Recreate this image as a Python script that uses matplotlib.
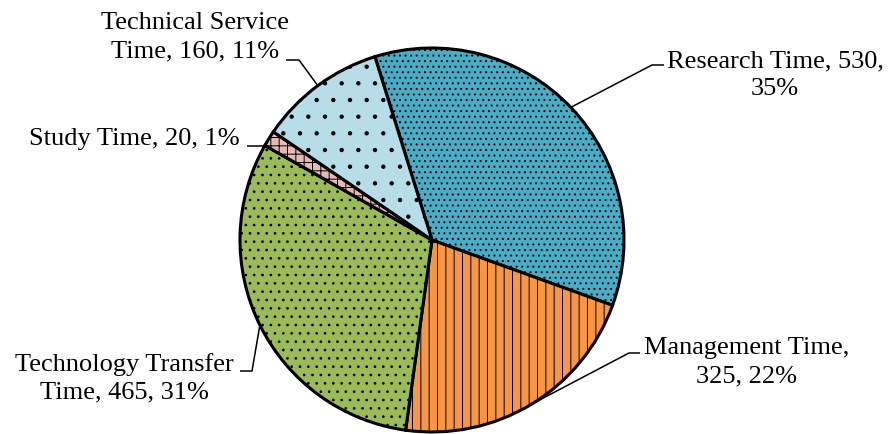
import numpy as np
import matplotlib
matplotlib.use('Agg')
import matplotlib.pyplot as plt

# slice data (clockwise from the top)
labels = ['Research Time', 'Management Time', 'Technology Transfer\nTime',
          'Study Time', 'Technical Service\nTime']
values = [530, 325, 465, 20, 160]
percents = [35, 22, 31, 1, 11]

colors = ['#4BACC6', '#F79646', '#9BBB59', '#E6B9B8', '#B7DEE8']
hatches = ['...', '||', '..', '++', '.']

plt.rcParams['font.family'] = ['Liberation Serif', 'DejaVu Serif']
plt.rcParams['hatch.color'] = '#333333'
plt.rcParams['hatch.linewidth'] = 0.7

W, H = 894, 434
CX, CY, R = 432, 240, 192


def px(x, y):
    """Pixel position (from top-left) to data units where the pie radius is 1."""
    return (x - CX) / R, (CY - y) / R


fig = plt.figure(figsize=(W / 100, H / 100), dpi=100)
ax = fig.add_axes([0, 0, 1, 1])

start = 107.3
wedges, _ = ax.pie(values, colors=colors, startangle=start, counterclock=False,
                   radius=1, center=(0, 0),
                   wedgeprops=dict(edgecolor='black', linewidth=2.2))
for w, h in zip(wedges, hatches):
    w.set_hatch(h)

ax.set_xlim(px(0, 0)[0], px(W, 0)[0])
ax.set_ylim(px(0, H)[1], px(0, 0)[1])
ax.set_aspect('equal')
ax.axis('off')

# label text placement (pixel centre) and elbow of each leader line
text_pos = [(775, 75), (747, 362), (124, 378), (134, 139), (195, 37)]
elbows = [((664, 65), (652, 65)), ((640, 353), (629, 353)),
          ((240, 371), (252, 371)), ((247, 146), (264, 146)),
          ((286, 60), (299, 60))]

total = sum(values)
angle = start
for i, (lab, v, p) in enumerate(zip(labels, values, percents)):
    span = 360 * v / total
    mid = np.deg2rad(angle - span / 2)
    angle -= span
    if lab == 'Research Time':
        txt = f'{lab}, {v},\n{p}%'
    elif lab == 'Management Time':
        txt = f'{lab},\n{v}, {p}%'
    else:
        txt = f'{lab}, {v}, {p}%'
    tx, ty = px(*text_pos[i])
    ax.text(tx, ty, txt, ha='center', va='center', fontsize=19,
            linespacing=1.35)
    (e1, e2) = elbows[i]
    x1, y1 = px(*e1)
    x2, y2 = px(*e2)
    ax.plot([x1, x2, np.cos(mid)], [y1, y2, np.sin(mid)], color='black',
            linewidth=1.1, solid_capstyle='butt')

fig.savefig('out.png', dpi=100)
